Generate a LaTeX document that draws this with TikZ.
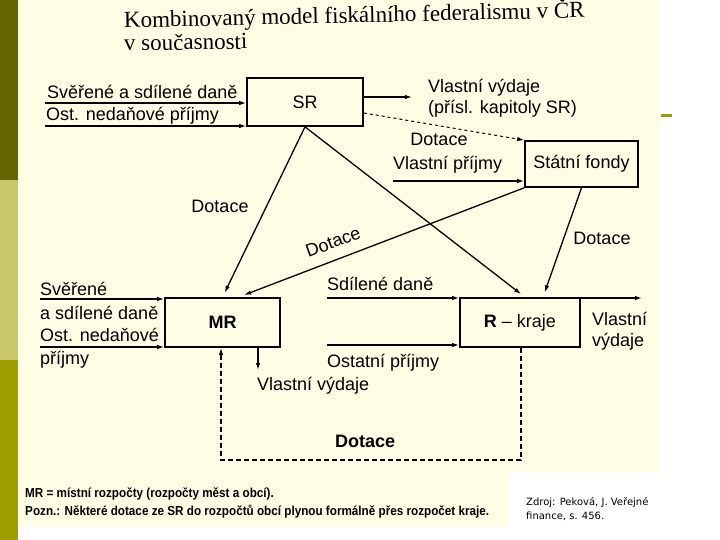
\documentclass[tikz,border=0pt]{standalone}
\usepackage{fontspec}
\setmainfont{Liberation Sans}
\newfontfamily\titlefont{Liberation Serif}
\newfontfamily\srcfont{DejaVu Sans}
\usetikzlibrary{
  positioning,
  calc,
  arrows.meta
}
\definecolor{scan}{RGB}{255,253,228}
\definecolor{oliveDark}{RGB}{102,102,0}
\definecolor{oliveLight}{RGB}{200,200,106}
\definecolor{oliveMid}{RGB}{158,158,0}
\newcommand{\lblsize}{\fontsize{18}{21}\selectfont}
\tikzset{
  box/.style={draw, line width=1.7pt, inner sep=0pt, font=\lblsize},
  arr/.style={line width=1.3pt, -{Latex[length=7pt,width=4.5pt]}},
  dasharr/.style={arr, dash pattern=on 5pt off 3pt},
  lbl/.style={font=\lblsize, inner sep=0pt}
}

\begin{document}
\begin{tikzpicture}[x=1pt, y=-1pt]
      \useasboundingbox (0,0) rectangle (720,540);

      % Slide background and scanned page
      \fill[white] (0,0) rectangle (720,540);
      \fill[scan] (18,0) rectangle (660,472);
      \fill[scan] (18,472) rectangle (508,527);
      \fill[oliveDark] (0,0) rectangle (18,180);
      \fill[oliveLight] (0,180) rectangle (18,360);
      \fill[oliveMid] (0,360) rectangle (18,540);
      \fill[oliveMid] (661,114) rectangle (672,117);

      % Title
      \node[anchor=base west, rotate=1.3, inner sep=0pt,
        font=\titlefont\fontsize{23}{27}\selectfont] (title) at (124,28)
        {Kombinovaný model fiskálního federalismu v ČR};
      \node[anchor=base west, rotate=1, inner sep=0pt,
        font=\titlefont\fontsize{23}{27}\selectfont] (subtitle) at (124,51)
        {v současnosti};

      % Budgets
      \node[box, minimum width=116pt, minimum height=48pt] (sr) at (305,102) {SR};
      \node[box, minimum width=113pt, minimum height=46pt] (sf) at (581.5,164) {Státní fondy};
      \node[box, minimum width=115pt, minimum height=49pt] (mr) at (222.5,322.5) {\textbf{MR}};
      \node[box, minimum width=120pt, minimum height=49pt] (kr) at (520,322.5) {\textbf{R} -- kraje};

      % Free ends of the flows
      \coordinate (srIn1) at (45,103);
      \coordinate (srIn2) at (45,126);
      \coordinate (srOut) at (412,97);
      \coordinate (sfIn) at (393,181);
      \coordinate (mrIn1) at (40,299);
      \coordinate (mrIn2) at (40,347);
      \coordinate (mrOut) at (258,370);
      \coordinate (krIn1) at (327,298);
      \coordinate (krIn2) at (327,345);
      \coordinate (krOut) at (642,298);
      \coordinate (loopR) at (521,460);
      \coordinate (loopL) at (221,460);

      % State budget
      \draw[arr] (srIn1) -- (srIn1 -| sr.west);
      \draw[arr] (srIn2) -- (srIn2 -| sr.west);
      \draw[arr] (srOut -| sr.east) -- (srOut);
      \draw[arr, line width=1pt, dash pattern=on 3pt off 3pt] ($(sr.east)+(0,11)$) -- (sf.north west);
      \node[lbl, anchor=base west] at (47,99) {Svěřené a sdílené daně};
      \node[lbl, anchor=base west] at (46,121) {Ost. nedaňové příjmy};
      \node[lbl, anchor=north west, align=left] at (428,79) {Vlastní výdaje\\(přísl. kapitoly SR)};
      \node[lbl] at (439,139) {Dotace};

      % State funds
      \draw[arr] (sfIn) -- (sfIn -| sf.west);
      \node[lbl, anchor=base west] at (393,170) {Vlastní příjmy};

      % Grants
      \draw[arr, shorten >=5pt] (sr.south) -- (mr.north);
      \draw[arr, shorten >=5pt] (sr.south) -- ($(kr.north)+(5,0)$);
      \draw[arr, shorten >=6pt] (sf.south west) -- ($(mr.north)+(16,0)$);
      \draw[arr, shorten >=5pt] (sf.south) -- ($(kr.north)+(23,0)$);
      \node[lbl] at (220,206) {Dotace};
      \node[lbl, rotate=20] at (333,242) {Dotace};
      \node[lbl] at (602,238) {Dotace};

      % Local budgets
      \draw[arr] (mrIn1) -- (mrIn1 -| mr.west);
      \draw[arr] (mrIn2) -- (mrIn2 -| mr.west);
      \draw[arr] (mrOut |- mr.south) -- (mrOut);
      \node[lbl, anchor=base west] at (40,295) {Svěřené};
      \node[lbl, anchor=base west] at (40,319) {a sdílené daně};
      \node[lbl, anchor=base west] at (40,341) {Ost. nedaňové};
      \node[lbl, anchor=base west] at (40,364) {příjmy};
      \node[lbl, anchor=base west] at (257,390) {Vlastní výdaje};

      % Regions
      \draw[arr] (krIn1) -- (krIn1 -| kr.west);
      \draw[arr] (krIn2) -- (krIn2 -| kr.west);
      \draw[arr] (krOut -| kr.east) -- (krOut);
      \draw[dasharr] (loopR |- kr.south) -- (loopR) -- (loopL) -- (loopL |- mr.south);
      \node[lbl, anchor=base west] at (327,290) {Sdílené daně};
      \node[lbl, anchor=base west] at (327,367) {Ostatní příjmy};
      \node[lbl, anchor=north west, align=left] at (592,312) {Vlastní\\výdaje};
      \node[lbl, anchor=base west, font=\lblsize\bfseries] at (335,447) {Dotace};

      % Notes and source
      \node[anchor=base west, inner sep=0pt, font=\fontsize{13}{15}\selectfont\bfseries] (note1) at (25,497)
        {\scalebox{0.9}[1]{MR = místní rozpočty (rozpočty měst a obcí).}};
      \node[anchor=base west, inner sep=0pt, font=\fontsize{13}{15}\selectfont\bfseries] (note2) at (25,515)
        {\scalebox{0.9}[1]{Pozn.: Některé dotace ze SR do rozpočtů obcí plynou formálně přes rozpočet kraje.}};
      \node[anchor=north west, inner sep=0pt, align=left, font=\srcfont\fontsize{10}{14}\selectfont] (src) at (526,497)
        {Zdroj: Peková, J. Veřejné\\finance, s. 456.};
    \end{tikzpicture}
\end{document}
